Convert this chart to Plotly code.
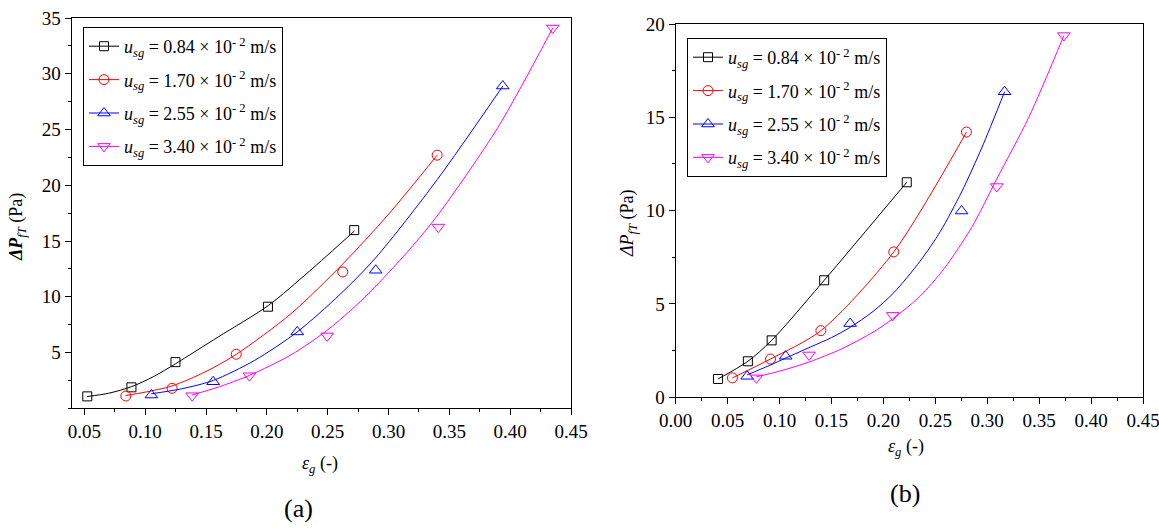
import plotly.graph_objects as go

# ---------------- data ----------------
labels = ["0.84", "1.70", "2.55", "3.40"]
colors = ["#000000", "#ff0000", "#0000ff", "#ff00ff"]
symbols = ["square-open", "circle-open", "triangle-up-open", "triangle-down-open"]
msizes = [9, 10, 11, 11]

# panel (a): measured points
a_x = [
    [0.0524, 0.0887, 0.1249, 0.2009, 0.2718],
    [0.0841, 0.1221, 0.1748, 0.2624, 0.3400],
    [0.1051, 0.1559, 0.2250, 0.2895, 0.3939],
    [0.1386, 0.1857, 0.2496, 0.3410, 0.4350],
]
a_y = [
    [1.07, 1.88, 4.14, 9.11, 15.98],
    [1.10, 1.79, 4.85, 12.23, 22.70],
    [1.19, 2.38, 6.85, 12.38, 28.90],
    [1.13, 2.92, 6.49, 16.25, 34.10],
]
# panel (a): fitted curves
a_fit_x = [
    [0.052, 0.070, 0.089, 0.107, 0.125, 0.160, 0.201, 0.235, 0.272],
    [0.084, 0.100, 0.122, 0.150, 0.175, 0.220, 0.262, 0.300, 0.340],
    [0.105, 0.130, 0.156, 0.190, 0.225, 0.260, 0.2895, 0.340, 0.394],
    [0.1386, 0.160, 0.1857, 0.220, 0.2496, 0.280, 0.317, 0.341, 0.390, 0.435],
]
a_fit_y = [
    [1.05, 1.35, 1.95, 2.85, 4.00, 6.40, 9.20, 12.30, 15.90],
    [1.15, 1.45, 2.00, 3.30, 4.85, 8.50, 12.90, 17.40, 22.70],
    [1.30, 1.75, 2.50, 4.30, 6.85, 10.20, 13.50, 20.50, 28.90],
    [1.20, 1.90, 2.95, 4.80, 7.00, 9.90, 14.20, 17.40, 25.20, 34.10],
]

# panel (b): measured points
b_x = [
    [0.0407, 0.0695, 0.0924, 0.1430, 0.2225],
    [0.0546, 0.0913, 0.1398, 0.2100, 0.2800],
    [0.0688, 0.1059, 0.1680, 0.2753, 0.3167],
    [0.0777, 0.1284, 0.2090, 0.3092, 0.3738],
]
b_y = [
    [0.98, 1.93, 3.05, 6.27, 11.52],
    [1.04, 2.05, 3.57, 7.79, 14.21],
    [1.125, 2.20, 3.95, 9.98, 16.37],
    [1.04, 2.27, 4.39, 11.29, 19.38],
]
# panel (b): fitted curves
b_fit_x = [
    [0.0407, 0.0695, 0.0924, 0.1430, 0.2225],
    [0.0546, 0.0913, 0.1398, 0.2100, 0.2800],
    [0.0688, 0.090, 0.1059, 0.130, 0.150, 0.168, 0.190, 0.210, 0.2354, 0.255, 0.2753, 0.295, 0.3167],
    [0.0777, 0.100, 0.1284, 0.160, 0.190, 0.209, 0.235, 0.2586, 0.285, 0.3092, 0.340, 0.3738],
]
b_fit_y = [
    [0.98, 1.93, 3.05, 6.27, 11.52],
    [1.04, 2.05, 3.57, 7.79, 14.21],
    [1.20, 1.70, 2.10, 2.70, 3.20, 3.75, 4.60, 5.60, 7.30, 8.90, 11.00, 13.40, 16.37],
    [1.10, 1.40, 1.89, 2.60, 3.49, 4.20, 5.40, 6.90, 9.10, 11.70, 15.00, 19.38],
]

a_xticks = [0.05, 0.10, 0.15, 0.20, 0.25, 0.30, 0.35, 0.40, 0.45]
a_yticks = [5, 10, 15, 20, 25, 30, 35]
b_xticks = [0.00, 0.05, 0.10, 0.15, 0.20, 0.25, 0.30, 0.35, 0.40, 0.45]
b_yticks = [0, 5, 10, 15, 20]

# ---------------- figure ----------------
W, H = 1159, 529
FONT = "Liberation Serif"


def fx(p):
    return p / W


def fy(p):
    return 1 - p / H


fig = go.Figure()


def legend_name(lbl):
    return f"<i>u</i><sub><i>sg</i></sub> = {lbl} × 10<sup>- 2</sup> m/s"


for panel, (px_, py_, fxs, fys, xa, ya, leg) in enumerate([
    (a_x, a_y, a_fit_x, a_fit_y, "x", "y", "legend"),
    (b_x, b_y, b_fit_x, b_fit_y, "x2", "y2", "legend2"),
]):
    for i in range(4):
        mk = dict(symbol=symbols[i], size=msizes[i], color=colors[i], line=dict(color=colors[i], width=1))
        fig.add_trace(go.Scatter(
            x=fxs[i], y=fys[i], mode="lines",
            line=dict(color=colors[i], width=1, shape="spline", smoothing=0.8),
            xaxis=xa, yaxis=ya, showlegend=False, hoverinfo="skip"))
        fig.add_trace(go.Scatter(
            x=px_[i], y=py_[i], mode="markers", marker=mk,
            xaxis=xa, yaxis=ya, showlegend=False))
        fig.add_trace(go.Scatter(
            x=[None], y=[None], mode="lines+markers", name=legend_name(labels[i]),
            line=dict(color=colors[i], width=1), marker=mk,
            xaxis=xa, yaxis=ya, legend=leg, legendgroup=f"{leg}_{i}", showlegend=True))

axis_common = dict(
    showline=True, linecolor="black", linewidth=1.2, mirror=True,
    ticks="outside", ticklen=6, tickwidth=1, tickcolor="black",
    showgrid=False, zeroline=False, automargin=False, ticklabeloverflow="allow",
    tickfont=dict(family=FONT, size=19, color="black"),
)

leg_common = dict(xanchor="left", yanchor="top",
                  bordercolor="black", borderwidth=1, bgcolor="white",
                  font=dict(family=FONT, size=18, color="black"), tracegroupgap=7)

fig.update_layout(
    width=W, height=H,
    margin=dict(l=0, r=0, t=0, b=0),
    paper_bgcolor="white", plot_bgcolor="white",
    font=dict(family=FONT, color="black"),
    xaxis=dict(domain=[fx(71.7), fx(571)], range=[0.0396, 0.45], anchor="y",
               tickmode="array", tickvals=a_xticks, tickformat=".2f",
               minor=dict(ticks="outside", ticklen=3, tickcolor="black", dtick=0.025, tick0=0.025),
               **axis_common),
    yaxis=dict(domain=[fy(408.3), fy(18)], range=[0.0, 35], anchor="x",
               tickmode="array", tickvals=a_yticks,
               minor=dict(ticks="outside", ticklen=3, tickcolor="black", dtick=2.5, tick0=0),
               **axis_common),
    xaxis2=dict(domain=[fx(675.7), fx(1143)], range=[0, 0.45], anchor="y2",
                tickmode="array", tickvals=b_xticks, tickformat=".2f",
                minor=dict(ticks="outside", ticklen=3, tickcolor="black", dtick=0.025, tick0=0),
                **axis_common),
    yaxis2=dict(domain=[fy(397.3), fy(24)], range=[0, 20], anchor="x2",
                tickmode="array", tickvals=b_yticks,
                minor=dict(ticks="outside", ticklen=3, tickcolor="black", dtick=2.5, tick0=0),
                **axis_common),
    legend=dict(x=fx(83), y=fy(27), **leg_common),
    legend2=dict(x=fx(687), y=fy(38), **leg_common),
)

ann = [
    dict(x=fx(17), y=fy(227), text="<b><i>ΔP</i></b><sub><i>fT</i></sub> (Pa)", textangle=-90, font_size=18),
    dict(x=fx(628), y=fy(223), text="<i>ΔP</i><sub><i>fT</i></sub> (Pa)", textangle=-90, font_size=18),
    dict(x=fx(320), y=fy(464), text="<i>ε</i><sub><i>g</i></sub> (-)", font_size=18),
    dict(x=fx(906), y=fy(447), text="<i>ε</i><sub><i>g</i></sub> (-)", font_size=18),
    dict(x=fx(298), y=fy(508), text="(a)", font_size=26),
    dict(x=fx(905), y=fy(493), text="(b)", font_size=26),
]
for a in ann:
    fs = a.pop("font_size")
    fig.add_annotation(xref="paper", yref="paper", showarrow=False,
                       xanchor="center", yanchor="middle",
                       font=dict(family=FONT, size=fs, color="black"), **a)

fig.write_html("out.html")
